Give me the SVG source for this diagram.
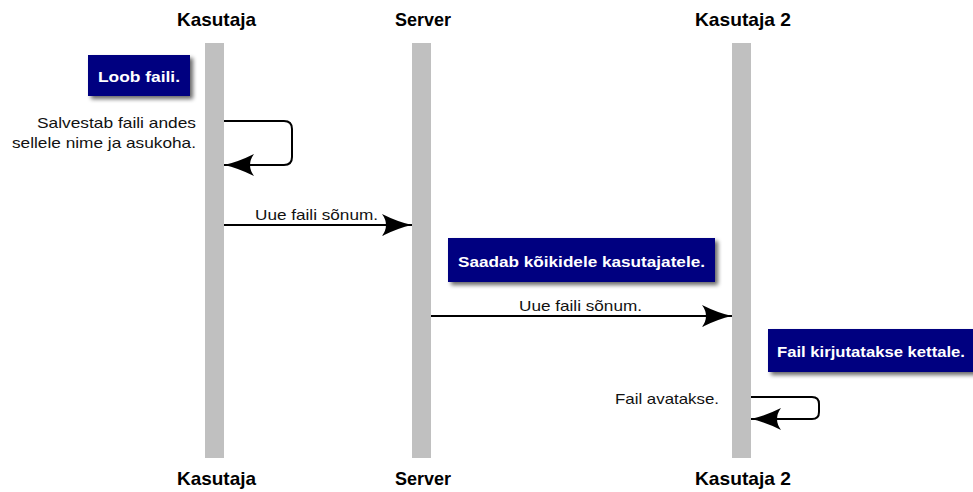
<svg xmlns="http://www.w3.org/2000/svg" width="973" height="492" viewBox="0 0 973 492">
<style>
.head{font-family:"Liberation Sans",Arial,sans-serif;font-weight:bold;font-size:19px;fill:#000;text-anchor:middle}
.lbl{font-family:"Liberation Sans",Arial,sans-serif;font-size:15px;fill:#111}
.note{fill:#000080}
.ntxt{font-family:"Liberation Sans",Arial,sans-serif;font-weight:bold;font-size:15px;fill:#fff;text-anchor:middle}
.life{fill:#c0c0c0}
.msg{fill:none;stroke:#000;stroke-width:2}
</style>
<defs>
<marker id="ah" markerWidth="32" markerHeight="26" refX="30" refY="13" orient="auto" markerUnits="userSpaceOnUse">
<path d="M0,2 Q16,10 30,13 Q16,16 0,24 Q8,13 0,2 Z" fill="#000"/>
</marker>
<filter id="sh" x="-10%" y="-20%" width="130%" height="160%">
<feGaussianBlur in="SourceAlpha" stdDeviation="2"/>
<feOffset dx="3" dy="3" result="b"/>
<feComponentTransfer><feFuncA type="linear" slope="0.6"/></feComponentTransfer>
<feMerge><feMergeNode/><feMergeNode in="SourceGraphic"/></feMerge>
</filter>
</defs>
<g id="kasutaja">
<rect class="life" x="205" y="43" width="19" height="415"/>
<text class="head" x="216.5" y="26" textLength="79" lengthAdjust="spacingAndGlyphs">Kasutaja</text>
<text class="head" x="216.5" y="485" textLength="79" lengthAdjust="spacingAndGlyphs">Kasutaja</text>
</g>
<g id="server">
<rect class="life" x="412" y="43" width="19" height="415"/>
<text class="head" x="423" y="26" textLength="56" lengthAdjust="spacingAndGlyphs">Server</text>
<text class="head" x="423" y="485" textLength="56" lengthAdjust="spacingAndGlyphs">Server</text>
</g>
<g id="kasutaja2">
<rect class="life" x="732" y="43" width="19" height="415"/>
<text class="head" x="743" y="26" textLength="96" lengthAdjust="spacingAndGlyphs">Kasutaja 2</text>
<text class="head" x="743" y="485" textLength="96" lengthAdjust="spacingAndGlyphs">Kasutaja 2</text>
</g>
<g id="note1">
<rect class="note" x="88" y="55" width="102" height="41" filter="url(#sh)"/>
<text class="ntxt" x="139" y="82" textLength="82" lengthAdjust="spacingAndGlyphs">Loob faili.</text>
</g>
<g id="note2">
<rect class="note" x="448" y="238" width="267" height="44" filter="url(#sh)"/>
<text class="ntxt" x="581.5" y="267" textLength="247" lengthAdjust="spacingAndGlyphs">Saadab kõikidele kasutajatele.</text>
</g>
<g id="note3">
<rect class="note" x="768" y="329" width="210" height="43" filter="url(#sh)"/>
<text class="ntxt" x="871" y="357" textLength="188" lengthAdjust="spacingAndGlyphs">Fail kirjutatakse kettale.</text>
</g>
<g id="connectors">
<path class="msg" d="M224,121 H284 Q292,121 292,129 V157 Q292,165 284,165 H224" marker-end="url(#ah)"/>
<text class="lbl" x="196" y="128" text-anchor="end" textLength="159" lengthAdjust="spacingAndGlyphs">Salvestab faili andes</text>
<text class="lbl" x="196" y="148" text-anchor="end" textLength="184" lengthAdjust="spacingAndGlyphs">sellele nime ja asukoha.</text>
<path class="msg" d="M224,225 H412" marker-end="url(#ah)"/>
<text class="lbl" x="316.5" y="220" text-anchor="middle" textLength="123" lengthAdjust="spacingAndGlyphs">Uue faili sõnum.</text>
<path class="msg" d="M431,316 H732" marker-end="url(#ah)"/>
<text class="lbl" x="580.5" y="311" text-anchor="middle" textLength="123" lengthAdjust="spacingAndGlyphs">Uue faili sõnum.</text>
<path class="msg" d="M751,397 H812 Q819,397 819,404 V412 Q819,419 812,419 H751" marker-end="url(#ah)"/>
<text class="lbl" x="719" y="404" text-anchor="end" textLength="104" lengthAdjust="spacingAndGlyphs">Fail avatakse.</text>
</g>
</svg>
